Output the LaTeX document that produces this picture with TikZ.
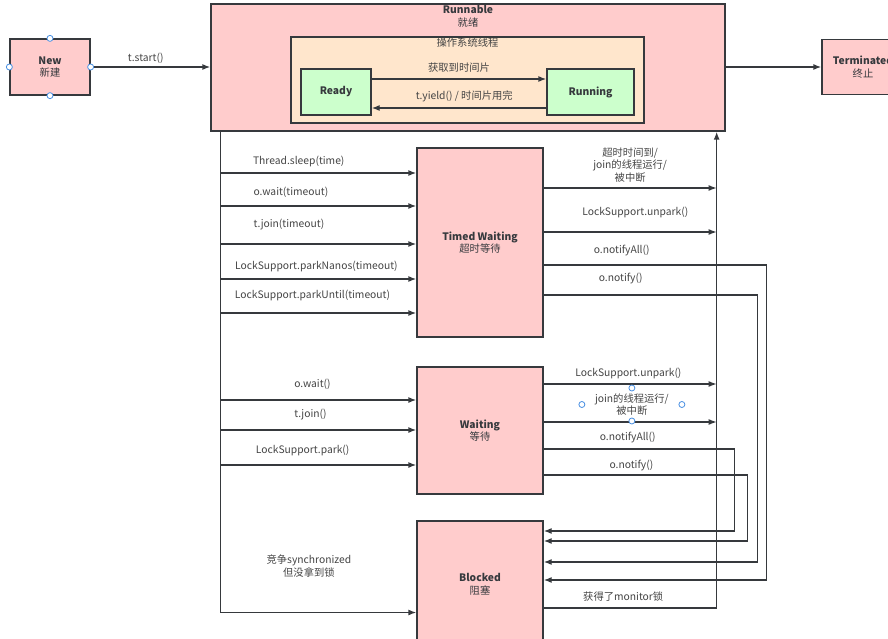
\documentclass[tikz,border=0pt]{standalone}
\usepackage{fontspec}
\setmainfont{Noto Sans CJK SC}
\usetikzlibrary{arrows.meta,positioning}
\definecolor{boxpink}{HTML}{FFCCCC}
\definecolor{boxorange}{HTML}{FFE6CC}
\definecolor{boxgreen}{HTML}{CCFFCC}
\definecolor{linegray}{HTML}{36393D}
\definecolor{textgray}{HTML}{444444}
\definecolor{handleblue}{HTML}{4A90E2}
\tikzset{
  state/.style={draw=linegray,line width=1.3pt,fill=boxpink,align=center,inner sep=0pt,text=linegray},
  lbl/.style={text=textgray,align=center,inner sep=0pt},
  handle/.style={circle,draw=handleblue,fill=white,line width=0.8pt,minimum size=6pt,inner sep=0pt},
}

\begin{document}
\begin{tikzpicture}[x=1pt,y=-1pt,>={Latex[length=8pt,width=6pt]},line width=1.3pt,color=linegray,
  every node/.style={font=\fontsize{10.3}{12.5}\selectfont}]
\useasboundingbox (0,0) rectangle (888,639);
% states
\node[state,minimum width=80,minimum height=56] (new) at (50,67) {\textbf{New}\\新建};
\node[state,minimum width=514,minimum height=127] (runnable) at (468,67.5) {};
\node[lbl,text=linegray,below=1.5pt of runnable.north] (runlbl) {\textbf{Runnable}\\就绪};
\node[state,fill=boxorange,minimum width=353,minimum height=86] (os) at (467.5,80) {};
\node[lbl,below=0.5pt of os.north] (oslbl) {操作系统线程};
\node[state,fill=boxgreen,minimum width=70,minimum height=46] (ready) at (336,92) {\textbf{Ready}};
\node[state,fill=boxgreen,minimum width=87,minimum height=46] (running) at (590.5,92) {\textbf{Running}};
\node[state,minimum width=82,minimum height=55] (term) at (863,67) {\textbf{Terminated}\\终止};
\node[state,minimum width=126,minimum height=189] (tw) at (480,242.5) {\textbf{Timed Waiting}\\超时等待};
\node[state,minimum width=126,minimum height=127] (wait) at (480,430.5) {\textbf{Waiting}\\等待};
\node[state,minimum width=126,minimum height=127] (blocked) at (480,584.5) {\textbf{Blocked}\\阻塞};

\coordinate (trunk) at ([xshift=10]runnable.south west);
\coordinate (ret) at ([xshift=-9]runnable.south east);

% runnable
\draw[->] (new.east) -- node[lbl,pos=.46,yshift=9]{t.start()} (new.east -| runnable.west);
\draw[->] (runnable.east |- term) -- (term.west);
\draw[->] ([yshift=13]ready.east) -- node[lbl,yshift=11]{获取到时间片} ([yshift=13]ready.east -| running.west);
\draw[->] ([yshift=-16]running.west) -- node[lbl,pos=.47,yshift=12]{t.yield() / 时间片用完} ([yshift=-16]running.west -| ready.east);

% into timed waiting / waiting / blocked
\draw[->] (trunk) |- node[lbl,pos=.726,yshift=46.5]{竞争synchronized\\但没拿到锁} (blocked.west |- 0,612.5);
\draw[->] (trunk |- 0,173) -- node[lbl,pos=.40,yshift=12]{Thread.sleep(time)} (tw.west |- 0,173);
\draw[->] (trunk |- 0,206) -- node[lbl,pos=.36,yshift=14]{o.wait(timeout)} (tw.west |- 0,206);
\draw[->] (trunk |- 0,244) -- node[lbl,pos=.35,yshift=19]{t.join(timeout)} (tw.west |- 0,244);
\draw[->] (trunk |- 0,279) -- node[lbl,pos=.49,yshift=13]{LockSupport.parkNanos(timeout)} (tw.west |- 0,279);
\draw[->] (trunk |- 0,313) -- node[lbl,pos=.47,yshift=18]{LockSupport.parkUntil(timeout)} (tw.west |- 0,313);
\draw[->] (trunk |- 0,400) -- node[lbl,pos=.47,yshift=16]{o.wait()} (wait.west |- 0,400);
\draw[->] (trunk |- 0,430) -- node[lbl,pos=.46,yshift=15]{t.join()} (wait.west |- 0,430);
\draw[->] (trunk |- 0,465) -- node[lbl,pos=.42,yshift=15]{LockSupport.park()} (wait.west |- 0,465);

% back to runnable / blocked
\draw[->] (blocked.east |- 0,608) -| node[lbl,pos=.23,yshift=11]{获得了monitor锁} (ret);
\draw[->] (tw.east |- 0,188) -- node[lbl,pos=.5,yshift=23]{超时时间到/\\join的线程运行/\\被中断} (ret |- 0,188);
\draw[->] (tw.east |- 0,232) -- node[lbl,pos=.53,yshift=20]{LockSupport.unpark()} (ret |- 0,232);
\draw[->] (tw.east |- 0,265) -- node[lbl,pos=.35,yshift=15]{o.notifyAll()} ++(223,0) |- (blocked.east |- 0,580);
\draw[->] (tw.east |- 0,295) -- node[lbl,pos=.36,yshift=17]{o.notify()} ++(214,0) |- (blocked.east |- 0,562);
\draw[->] (wait.east |- 0,384) -- node[lbl,pos=.49,yshift=11]{LockSupport.unpark()} (ret |- 0,384);
\draw[->] (wait.east |- 0,422) -- node[lbl,pos=.51,yshift=17.5] (joinlbl) {join的线程运行/\\被中断} (ret |- 0,422);
\draw[->] (wait.east |- 0,449) -- node[lbl,pos=.44,yshift=12]{o.notifyAll()} ++(191,0) |- (blocked.east |- 0,531);
\draw[->] (wait.east |- 0,475) -- node[lbl,pos=.43,yshift=10]{o.notify()} ++(204,0) |- (blocked.east |- 0,541);

% selection handles
\foreach \a in {north,south,east,west} \node[handle] at (new.\a) {};
\node[handle] at ([yshift=16.5]joinlbl.center) {};
\node[handle] at ([yshift=-16.5]joinlbl.center) {};
\node[handle] at ([xshift=-50]joinlbl.center) {};
\node[handle] at ([xshift=50]joinlbl.center) {};
\end{tikzpicture}
\end{document}
